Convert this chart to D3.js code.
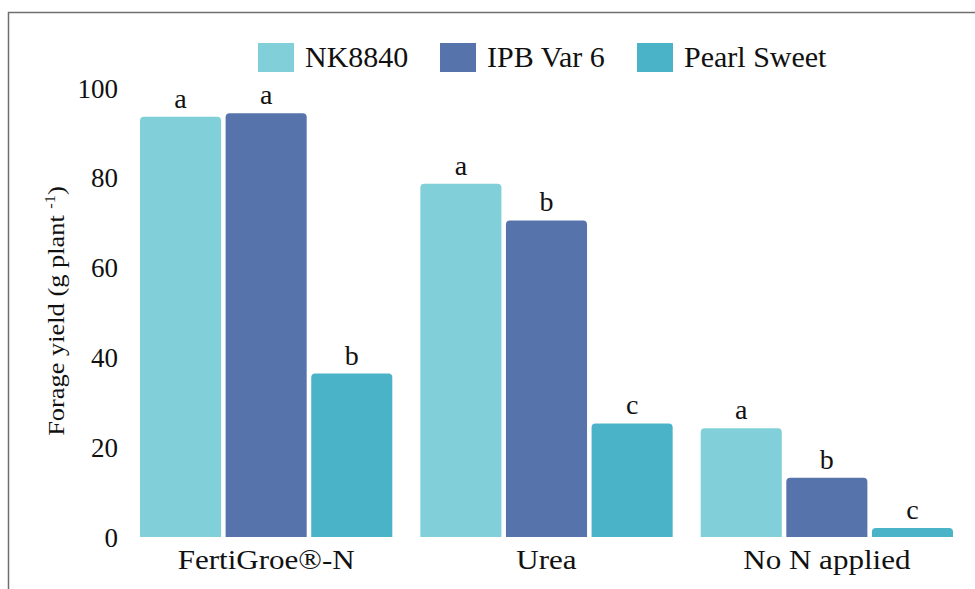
<!DOCTYPE html>
<html>
<head>
<meta charset="utf-8">
<script src="https://cdn.jsdelivr.net/npm/d3@7/dist/d3.min.js"></script>
</head>
<body style="margin:0">
<svg id="fig" width="975" height="589"></svg>
<script>
// ---- data ----
const categories = ["FertiGroe®-N", "Urea", "No N applied"];
const seriesNames = ["NK8840", "IPB Var 6", "Pearl Sweet"];
const nk8840     = [93.6, 78.7, 24.2];
const ipbVar6    = [94.4, 70.5, 13.2];
const pearlSweet = [36.4, 25.3, 2.0];
const lettersNK    = ["a", "a", "a"];
const lettersIPB   = ["a", "b", "b"];
const lettersPearl = ["b", "c", "c"];
const yTicks = [0, 20, 40, 60, 80, 100];

const seriesValues = [nk8840, ipbVar6, pearlSweet];
const seriesLetters = [lettersNK, lettersIPB, lettersPearl];
const colors = ["#80cfd9", "#5674ab", "#4ab3c8"];
const FONT = "'Liberation Serif', 'Tinos', 'Times New Roman', serif";

const svg = d3.select("#fig");

// frame
svg.append("path")
  .attr("d", "M8.5,600 L8.5,12.5 L980,12.5")
  .attr("fill", "none")
  .attr("stroke", "#6f6f6f")
  .attr("stroke-width", 1.5);

const y = d3.scaleLinear().domain([0, 100]).range([537, 88]);
const x0 = d3.scaleBand().domain(categories).range([140, 953]).paddingInner(0.1).paddingOuter(0);
const x1 = d3.scaleBand().domain(seriesNames).range([0, x0.bandwidth()]).paddingInner(0.053).paddingOuter(0);

// y axis (labels only)
const yAxis = d3.axisLeft(y).tickValues(yTicks).tickSize(0).tickPadding(0);
const gy = svg.append("g").attr("transform", "translate(118,0)").call(yAxis);
gy.attr("font-family", null).attr("font-size", null);
gy.select(".domain").remove();
gy.selectAll("text")
  .style("font-family", FONT)
  .attr("font-size", 27)
  .attr("fill", "#111")
  .attr("dy", "0.34em");

// y label
svg.append("text")
  .attr("transform", "translate(64,311) rotate(-90) scale(1.1,1)")
  .attr("text-anchor", "middle")
  .attr("font-size", 24)
  .attr("fill", "#111")
  .style("font-family", FONT)
  .call(t => {
    t.append("tspan").text("Forage yield (g plant ");
    t.append("tspan").attr("font-size", 15).attr("dy", -9).text("-1");
    t.append("tspan").attr("dy", 9).text(")");
  });

// bars
function topRounded(xp, yp, w, h, r) {
  r = Math.min(r, h, w / 2);
  return `M${xp},${yp + h} L${xp},${yp + r} Q${xp},${yp} ${xp + r},${yp} L${xp + w - r},${yp} Q${xp + w},${yp} ${xp + w},${yp + r} L${xp + w},${yp + h} Z`;
}

const groups = svg.append("g").selectAll("g")
  .data(categories)
  .join("g")
  .attr("transform", d => `translate(${x0(d)},0)`);

groups.each(function(cat, ci) {
  const g = d3.select(this);
  seriesNames.forEach((s, si) => {
    const v = seriesValues[si][ci];
    const bx = x1(s), bw = x1.bandwidth();
    g.append("path")
      .attr("d", topRounded(bx, y(v), bw, y(0) - y(v), 4))
      .attr("fill", colors[si]);
    g.append("text")
      .attr("x", bx + bw / 2)
      .attr("y", y(v) - 9)
      .attr("text-anchor", "middle")
      .attr("font-size", 28)
      .attr("fill", "#111")
      .style("font-family", FONT)
      .text(seriesLetters[si][ci]);
  });
});

// x category labels
svg.append("g").selectAll("text")
  .data(categories)
  .join("text")
  .attr("transform", d => `translate(${x0(d) + x0.bandwidth() / 2},569) scale(1.15,1)`)
  .attr("text-anchor", "middle")
  .attr("font-size", 27)
  .attr("fill", "#111")
  .style("font-family", FONT)
  .text(d => d);

// legend
const legendX = [258, 440, 637];
const legend = svg.append("g").selectAll("g")
  .data(seriesNames)
  .join("g")
  .attr("transform", (d, i) => `translate(${legendX[i]},43)`);
legend.append("rect").attr("width", 36).attr("height", 29).attr("fill", (d, i) => colors[i]);
legend.append("text")
  .attr("x", 47)
  .attr("y", 24)
  .attr("font-size", 30)
  .attr("fill", "#111")
  .style("font-family", FONT)
  .text(d => d);
</script>
</body>
</html>
